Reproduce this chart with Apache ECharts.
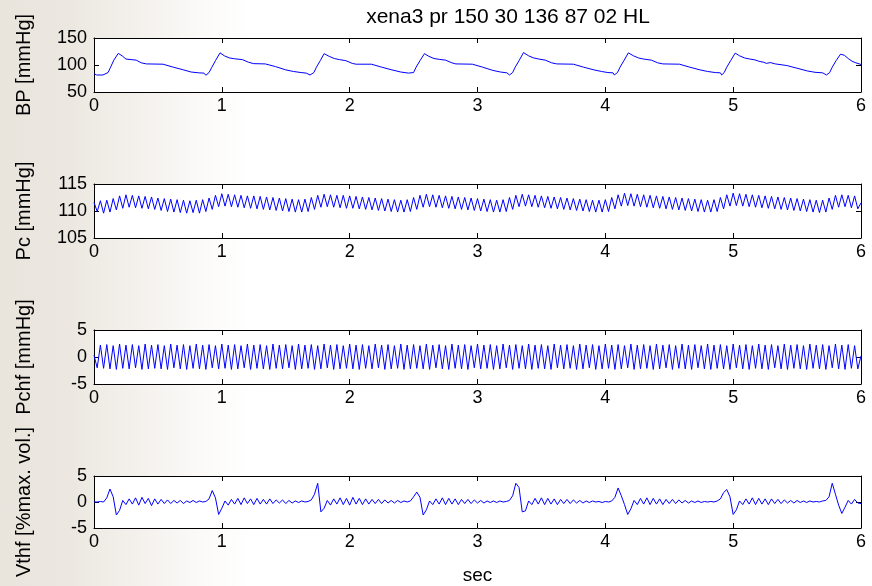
<!DOCTYPE html>
<html><head><meta charset="utf-8">
<script src="https://cdn.jsdelivr.net/npm/echarts@6/dist/echarts.min.js"></script>
<style>
html,body{margin:0;padding:0;background:#fff;}
#c{width:872px;height:586px;background:linear-gradient(to right,#e9e4dc 0px,#ece8e1 70px,#f4f1ed 140px,#fbfaf8 200px,#ffffff 250px);}
</style></head><body><div id="c"></div>
<script>
const titleText = 'xena3 pr 150 30 136 87 02 HL';
const xLabel = 'sec';
const panelNames = ['BP [mmHg]', 'Pc [mmHg]', 'Pchf [mmHg]', 'Vthf [%max. vol.]'];
const yMin = [50, 105, -5, -5];
const yMax = [150, 115, 5, 5];
const yStep = [50, 5, 5, 5];
const xMin = 0, xMax = 6, xStep = 1;
const sampleDt = 0.025;

// BP: breakpoints (time in s, value in mmHg)
const bpTime = [0.00,0.02,0.07,0.085,0.11,0.13,0.155,0.19,0.22,0.25,0.29,0.33,0.37,0.41,0.54,0.62,0.70,0.76,0.82,0.86,
0.875,0.90,0.92,0.95,0.986,1.02,1.06,1.10,1.16,1.21,1.25,1.34,1.42,1.50,1.56,1.62,1.66,
1.69,1.72,1.74,1.77,1.80,1.84,1.88,1.92,1.97,2.02,2.05,2.17,2.25,2.33,2.40,2.46,
2.475,2.50,2.52,2.55,2.585,2.62,2.66,2.70,2.75,2.80,2.83,2.96,3.04,3.12,3.18,3.23,
3.25,3.275,3.295,3.325,3.36,3.40,3.44,3.48,3.53,3.58,3.62,3.75,3.83,3.91,3.97,4.02,4.06,
4.07,4.095,4.115,4.145,4.18,4.22,4.26,4.30,4.36,4.41,4.45,4.58,4.66,4.74,4.80,4.86,4.90,
4.91,4.93,4.95,4.98,5.016,5.05,5.09,5.13,5.17,5.20,5.24,5.26,5.29,5.33,5.42,5.50,5.58,5.64,5.70,
5.73,5.755,5.775,5.805,5.84,5.87,5.90,5.93,5.96,6.00];
const bpValue = [84,81.5,81.5,81,86,96,109,121.5,117,111,110,109,104,102,101.5,96,91,87,85.5,85,
81,86,95,108,122.5,117,113,111.5,110,105,102.5,102,97,91,88,86,85,
81.5,86,96,108,121,116,112,110,108,103,101.5,101.5,96,91,87,85,
81.5,86,96,108,121,116,112,110.5,109,104,102,101.5,96,90,87,85.5,
81.5,86,96,108,123,117,113,111,109,104,102,101.5,96,91,88,86,85.5,
81.5,86,96,108,122.5,117,113,111,109,104,102,101.5,96,91,88,86,85.5,
81.5,86,96,108,122,117,113,111,109.5,107,105,103,104.5,102,99,94,89,86.5,85.5,
81.5,86,96,108,120,118,112,107,104,101];

// Pc, sampled every 25 ms
const pcValue = [
111.6,109.9,111.9,109.6,112.0,109.8,112.3,110.2,112.8,110.5,113.0,110.7,112.9,110.6,112.8,110.5,112.7,110.4,112.6,110.3,
112.4,110.1,112.3,109.9,112.2,109.8,112.1,109.7,112.0,109.6,111.9,109.7,112.0,109.6,112.1,109.9,112.4,110.3,112.9,110.8,
113.2,110.9,113.1,110.8,113.0,110.7,112.9,110.6,112.8,110.5,112.8,110.4,112.7,110.3,112.6,110.2,112.5,110.1,112.4,110.0,
112.3,109.9,112.2,109.8,112.1,109.8,112.2,109.9,112.5,110.3,112.9,110.7,113.1,110.8,113.0,110.7,112.9,110.6,112.9,110.5,
112.8,110.5,112.7,110.4,112.6,110.3,112.5,110.2,112.4,110.1,112.3,110.0,112.2,109.9,112.1,109.8,112.0,109.8,112.1,109.9,
112.5,110.3,112.9,110.7,113.1,110.8,113.0,110.7,112.9,110.6,112.8,110.5,112.7,110.4,112.6,110.3,112.5,110.2,112.4,110.1,
112.3,110.0,112.2,109.9,112.1,109.8,112.0,109.8,112.1,109.9,112.5,110.3,112.9,110.8,113.1,110.9,113.0,110.8,112.9,110.7,
112.8,110.6,112.7,110.5,112.6,110.4,112.5,110.3,112.4,110.2,112.3,110.1,112.2,110.0,112.1,109.9,112.0,109.8,112.0,109.8,
112.1,109.9,112.5,110.4,113.0,110.9,113.3,111.0,113.2,110.9,113.1,110.8,113.0,110.7,112.9,110.6,112.8,110.5,112.7,110.4,
112.6,110.3,112.5,110.2,112.4,110.1,112.3,110.0,112.2,109.9,112.1,109.8,112.0,109.8,112.1,109.9,112.5,110.4,113.0,110.9,
113.3,111.0,113.2,110.9,113.1,110.8,113.0,110.7,112.9,110.6,112.8,110.5,112.7,110.4,112.6,110.3,112.5,110.2,112.4,110.1,
112.3,110.0,112.2,109.9,112.1,109.8,112.0,109.7,112.0,109.8,112.4,110.3,112.9,110.7,113.0,110.8,112.9,110.6,112.8,110.4,
111.5];

// Pchf, sampled every 25 ms
const pchfValue = [
0.3,-2.0,2.2,-2.1,2.3,-2.2,2.1,-2.3,2.4,-2.1,2.2,-2.2,2.3,-2.0,2.1,-2.3,2.4,-2.2,2.2,-2.1,
2.3,-2.2,2.1,-2.3,2.4,-2.0,2.2,-2.2,2.3,-2.3,2.1,-2.1,2.4,-2.2,2.2,-2.3,2.3,-2.0,2.1,-2.2,
2.4,-2.1,2.2,-2.3,2.3,-2.2,2.1,-2.0,2.4,-2.3,2.2,-2.1,2.3,-2.2,2.1,-2.3,2.4,-2.1,2.2,-2.2,
2.3,-2.0,2.1,-2.3,2.4,-2.2,2.2,-2.1,2.3,-2.3,2.1,-2.2,2.4,-2.0,2.2,-2.3,2.3,-2.2,2.1,-2.1,
2.4,-2.2,2.2,-2.3,2.3,-2.1,2.1,-2.2,2.4,-2.0,2.2,-2.3,2.3,-2.2,2.1,-2.1,2.4,-2.3,2.2,-2.2,
2.3,-2.1,2.1,-2.2,2.4,-2.3,2.2,-2.0,2.3,-2.2,2.1,-2.3,2.4,-2.1,2.2,-2.2,2.3,-2.3,2.1,-2.0,
2.4,-2.2,2.2,-2.1,2.3,-2.3,2.1,-2.2,2.4,-2.0,2.2,-2.3,2.3,-2.1,2.1,-2.2,2.4,-2.3,2.2,-2.1,
2.3,-2.2,2.1,-2.3,2.4,-2.0,2.2,-2.2,2.3,-2.1,2.1,-2.3,2.4,-2.2,2.2,-2.0,2.3,-2.3,2.1,-2.2,
2.4,-2.1,2.2,-2.3,2.3,-2.2,2.1,-2.0,2.4,-2.3,2.2,-2.2,2.3,-2.1,2.1,-2.3,2.4,-2.2,2.2,-2.0,
2.3,-2.3,2.1,-2.1,2.4,-2.2,2.2,-2.3,2.3,-2.0,2.1,-2.2,2.4,-2.3,2.2,-2.1,2.3,-2.2,2.1,-2.3,
2.4,-2.0,2.2,-2.2,2.3,-2.3,2.1,-2.1,2.4,-2.2,2.2,-2.3,2.3,-2.0,2.1,-2.2,2.4,-2.3,2.2,-2.1,
2.3,-2.2,2.1,-2.3,2.4,-2.1,2.2,-2.2,2.3,-2.3,2.1,-2.0,2.4,-2.2,2.2,-2.3,2.3,-2.1,2.1,-2.2,
0.2];

// Vthf, sampled every 25 ms
const vthfValue = [
0.0,0.0,0.1,0.0,0.8,2.5,1.0,-2.5,-1.6,0.3,-0.5,0.6,-0.4,0.8,-0.6,0.9,-0.3,0.7,-0.7,0.6,
-0.4,0.5,-0.3,0.4,-0.3,0.3,-0.2,0.3,-0.3,0.2,-0.1,0.3,-0.1,0.2,0.0,0.1,0.6,2.2,0.8,-2.4,
-1.2,0.2,-0.6,0.5,-0.4,0.7,-0.5,0.8,-0.3,0.6,-0.5,0.7,-0.4,0.5,-0.4,0.6,-0.3,0.4,-0.2,0.4,
-0.3,0.3,-0.2,0.2,-0.1,0.2,0.0,0.1,0.4,1.5,3.6,-1.9,-1.2,0.3,-0.6,0.6,-0.4,0.8,-0.5,0.7,
-0.6,0.9,-0.4,0.7,-0.5,0.6,-0.4,0.5,-0.3,0.5,-0.3,0.4,-0.2,0.3,-0.2,0.3,-0.1,0.2,0.0,0.2,
1.0,1.9,0.9,-2.5,-1.5,0.2,-0.5,0.6,-0.4,0.8,-0.5,0.7,-0.4,0.6,-0.5,0.5,-0.3,0.5,-0.3,0.4,
-0.2,0.3,-0.2,0.2,-0.1,0.2,-0.1,0.2,0.0,0.1,0.3,1.2,3.6,2.8,-1.9,-1.7,0.2,-0.5,0.7,-0.4,
0.8,-0.5,0.7,-0.4,0.6,-0.5,0.5,-0.3,0.5,-0.3,0.4,-0.2,0.3,-0.2,0.2,-0.1,0.2,0.0,0.1,-0.1,
0.1,0.0,0.2,0.9,2.7,1.2,-0.5,-2.4,-1.3,0.3,-0.5,0.7,-0.4,0.8,-0.5,0.7,-0.4,0.6,-0.5,0.5,
-0.3,0.5,-0.3,0.4,-0.2,0.3,-0.2,0.2,-0.1,0.2,-0.1,0.1,0.0,0.1,0.0,0.2,0.6,1.8,2.4,1.0,
-2.4,-1.5,0.2,-0.5,0.6,-0.4,0.8,-0.5,0.7,-0.4,0.6,-0.5,0.6,-0.3,0.5,-0.3,0.4,-0.2,0.3,-0.2,
0.3,-0.1,0.2,-0.1,0.2,0.0,0.1,0.0,0.2,0.3,1.0,3.6,1.5,-0.6,-2.2,-1.0,0.3,-0.4,0.5,-0.2,
-0.3];

const FONT = '"Liberation Sans", Arial, Helvetica, sans-serif';
const gridTop = [38, 184, 330, 476];
const gridLeft = 94, gridWidth = 767, gridHeight = 54;
const lineColor = '#0000ff';

function sampled(vals) { return vals.map((v, i) => [i * sampleDt, v]); }
const seriesData = [
  bpTime.map((t, i) => [t, bpValue[i]]),
  sampled(pcValue),
  sampled(pchfValue),
  sampled(vthfValue)
];

const grids = [], xAxes = [], yAxes = [], series = [];
for (let p = 0; p < 4; p++) {
  grids.push({left: gridLeft, top: gridTop[p], width: gridWidth, height: gridHeight,
    show: true, backgroundColor: '#ffffff', borderWidth: 0, containLabel: false});
  const axLine = {show: true, onZero: false, lineStyle: {color: '#000', width: 1}};
  const tick = {show: true, inside: true, length: 5, lineStyle: {color: '#000', width: 1}};
  xAxes.push({type: 'value', gridIndex: p, position: 'bottom', min: xMin, max: xMax, interval: xStep,
    axisLine: axLine, axisTick: tick, splitLine: {show: false},
    axisLabel: {show: true, color: '#000', fontSize: 18, fontFamily: FONT, margin: 5},
    name: p === 3 ? xLabel : '', nameLocation: 'middle', nameGap: 38,
    nameTextStyle: {color: '#000', fontSize: 19, fontFamily: FONT}});
  xAxes.push({type: 'value', gridIndex: p, position: 'top', min: xMin, max: xMax, interval: xStep,
    axisLine: axLine, axisTick: tick, splitLine: {show: false}, axisLabel: {show: false}});
  yAxes.push({type: 'value', gridIndex: p, position: 'left', min: yMin[p], max: yMax[p], interval: yStep[p],
    axisLine: axLine, axisTick: tick, splitLine: {show: false},
    axisLabel: {show: true, color: '#000', fontSize: 18, fontFamily: FONT, margin: 7},
    name: panelNames[p], nameLocation: 'middle', nameGap: 60,
    nameTextStyle: {color: '#000', fontSize: 20, fontFamily: FONT}});
  yAxes.push({type: 'value', gridIndex: p, position: 'right', min: yMin[p], max: yMax[p], interval: yStep[p],
    axisLine: axLine, axisTick: tick, splitLine: {show: false}, axisLabel: {show: false}});
  series.push({type: 'line', xAxisIndex: 2 * p, yAxisIndex: 2 * p, data: seriesData[p],
    showSymbol: false, symbol: 'none', clip: true,
    lineStyle: {color: lineColor, width: 1}, emphasis: {disabled: true}});
}

const chart = echarts.init(document.getElementById('c'), null, {renderer: 'canvas'});
chart.setOption({
  animation: false,
  backgroundColor: 'transparent',
  title: {text: titleText, left: 503, textAlign: 'center', top: 2,
    textStyle: {color: '#000', fontSize: 21, fontWeight: 'normal', fontFamily: FONT}},
  grid: grids, xAxis: xAxes, yAxis: yAxes, series: series
});
</script></body></html>
